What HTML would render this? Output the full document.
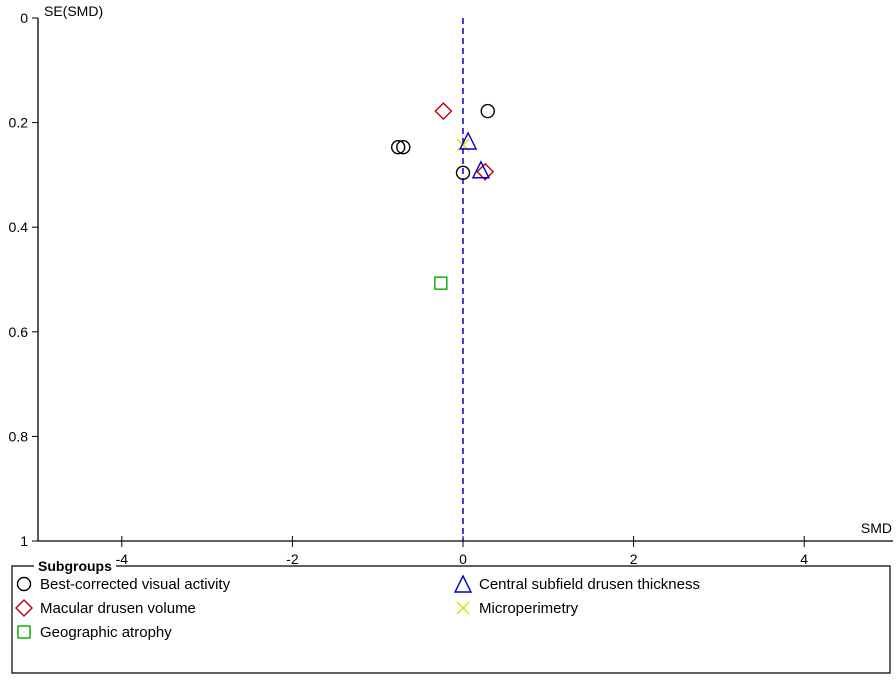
<!DOCTYPE html>
<html><head><meta charset="utf-8"><style>
body{margin:0;background:#fff;}
svg{display:block;font-family:"Liberation Sans",Arial,sans-serif;}
</style></head><body>
<svg id="c" width="896" height="687" viewBox="0 0 896 687"></svg>
<script>
const xTicks=[-4,-2,0,2,4];
const yTicks=[0,0.2,0.4,0.6,0.8,1];
const yTickLabels=["0","0.2","0.4","0.6","0.8","1"];
const bcvaX=[0.29,-0.76,-0.70,0.0];
const bcvaY=[0.178,0.247,0.247,0.296];
const mdvX=[-0.23,0.26];
const mdvY=[0.178,0.294];
const csdtX=[0.06,0.21];
const csdtY=[0.239,0.294];
const microX=[0.0];
const microY=[0.243];
const gaX=[-0.26];
const gaY=[0.507];
const NS="http://www.w3.org/2000/svg";
const svg=document.getElementById('c');
const X=v=>463+v*85.3;
const Y=v=>18+v*523;
function mk(t,a,txt){const e=document.createElementNS(NS,t);for(const k in a)e.setAttribute(k,a[k]);if(txt!==undefined)e.textContent=txt;svg.appendChild(e);return e;}
let e=mk('line',{x1:38,y1:18,x2:38,y2:Y(1),stroke:'#000','stroke-width':1.3});


e=mk('line',{x1:38,y1:Y(1),x2:893,y2:Y(1),stroke:'#000','stroke-width':1.3});


yTicks.forEach((t,i)=>{
 const l=mk('line',{x1:32,y1:Y(t),x2:38,y2:Y(t),stroke:'#000'});
 
 
 const tx=mk('text',{x:28,y:Y(t)+5,'text-anchor':'end','font-size':14},yTickLabels[i]);
 
 
});
xTicks.forEach(t=>{
 const l=mk('line',{x1:X(t),y1:Y(1)-5,x2:X(t),y2:Y(1)+6,stroke:'#000'});
 
 
 const tx=mk('text',{x:X(t),y:Y(1)+23,'text-anchor':'middle','font-size':14},String(t));
 
 
});
e=mk('text',{x:44,y:16,'font-size':14},'SE(SMD)');


e=mk('text',{x:892,y:533,'text-anchor':'end','font-size':14},'SMD');


e=mk('line',{x1:X(0),y1:18,x2:X(0),y2:Y(1),stroke:'#0000cc','stroke-width':1.5,'stroke-dasharray':'6,4'});


function circle(x,y){return mk('circle',{cx:x,cy:y,r:6.5,fill:'none',stroke:'#000','stroke-width':1.4});}
function diamond(x,y){return mk('polygon',{points:`${x},${y-8} ${x+8},${y} ${x},${y+8} ${x-8},${y}`,fill:'none',stroke:'#c00000','stroke-width':1.4});}
function tri(x,y){return mk('polygon',{points:`${x},${y-10} ${x+8},${y+6} ${x-8},${y+6}`,fill:'none',stroke:'#0000cc','stroke-width':1.4});}
function cross(x,y){return mk('path',{d:`M${x-6},${y-6}L${x+6},${y+6}M${x+6},${y-6}L${x-6},${y+6}`,stroke:'#e0e000','stroke-width':1.5});}
function square(x,y){return mk('rect',{x:x-6,y:y-6,width:12,height:12,fill:'none',stroke:'#00aa00','stroke-width':1.4});}
bcvaX.forEach((v,i)=>{const m=circle(X(v),Y(bcvaY[i]));});
mdvX.forEach((v,i)=>{const m=diamond(X(v),Y(mdvY[i]));});
microX.forEach((v,i)=>{const m=cross(X(v),Y(microY[i]));});
csdtX.forEach((v,i)=>{const m=tri(X(v),Y(csdtY[i]));});
gaX.forEach((v,i)=>{const m=square(X(v),Y(gaY[i]));});
e=mk('path',{d:'M34,566 L12,566 L12,673 L890,673 L890,566 L116,566',fill:'none',stroke:'#000','stroke-width':1.2});


e=mk('text',{x:38,y:571,'font-size':14,'font-weight':'bold'},'Subgroups');


const entries=[[circle,24,584,'Best-corrected visual activity'],[diamond,24,608,'Macular drusen volume'],[square,24,632,'Geographic atrophy'],[tri,463,586,'Central subfield drusen thickness'],[cross,463,608,'Microperimetry']];
entries.forEach(en=>{
 const m=en[0](en[1],en[2]);
 
 
 const t=mk('text',{x:en[1]+16,y:(en[0]===tri?584:en[2])+5,'font-size':15},en[3]);
 
 
});
</script>
</body></html>
